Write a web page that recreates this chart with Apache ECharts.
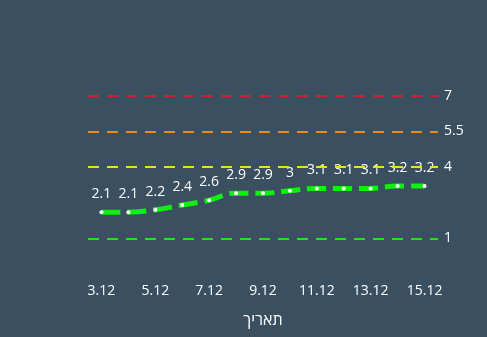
<!DOCTYPE html>
<html><head><meta charset="utf-8">
<script src="https://cdn.jsdelivr.net/npm/echarts@6/dist/echarts.min.js"></script>
<style>html,body{margin:0;padding:0;background:#3a4f60;}#c{width:487px;height:337px;}</style>
</head><body><div id="c"></div>
<script>
var categories = ['3.12','4.12','5.12','6.12','7.12','8.12','9.12','10.12','11.12','12.12','13.12','14.12','15.12'];
var values = [2.1, 2.1, 2.2, 2.4, 2.6, 2.9, 2.9, 3, 3.1, 3.1, 3.1, 3.2, 3.2];
var thresholds = [1, 4, 5.5, 7];
var thresholdColors = ['#1ee61e', '#e8e21a', '#e88a1c', '#d4202a'];
var xName = 'תאריך';

var chart = echarts.init(document.getElementById('c'));
var font = '"Open Sans", sans-serif';
chart.setOption({
  backgroundColor: '#3a4f60',
  grid: {left: 88, right: 49, top: 72, bottom: 75},
  xAxis: {
    type: 'category', data: categories, boundaryGap: true,
    axisLine: {show: false}, axisTick: {show: false}, splitLine: {show: false},
    axisLabel: {color: '#fff', fontSize: 14, fontFamily: font, interval: 1, margin: 22},
    name: xName, nameLocation: 'middle', nameGap: 50,
    nameTextStyle: {color: '#fff', fontSize: 16, fontFamily: font}
  },
  yAxis: {type: 'value', min: 0, max: 8, show: false, splitLine: {show: false}},
  series: [{
    type: 'line', data: values, smooth: true,
    lineStyle: {color: '#11ee11', width: 5, type: [19, 7]},
    symbol: 'circle', symbolSize: 4,
    itemStyle: {color: '#fff', borderWidth: 0},
    label: {show: true, position: 'top', distance: 9, color: '#fff', fontSize: 14, fontFamily: font},
    markLine: {
      silent: true, symbol: 'none',
      data: thresholds.map(function (t, i) {
        return {yAxis: t, lineStyle: {color: thresholdColors[i], width: 2, type: [11, 8]}};
      }),
      label: {show: true, position: 'end', color: '#fff', fontSize: 14, fontFamily: font, distance: 6}
    }
  }]
});
</script></body></html>
